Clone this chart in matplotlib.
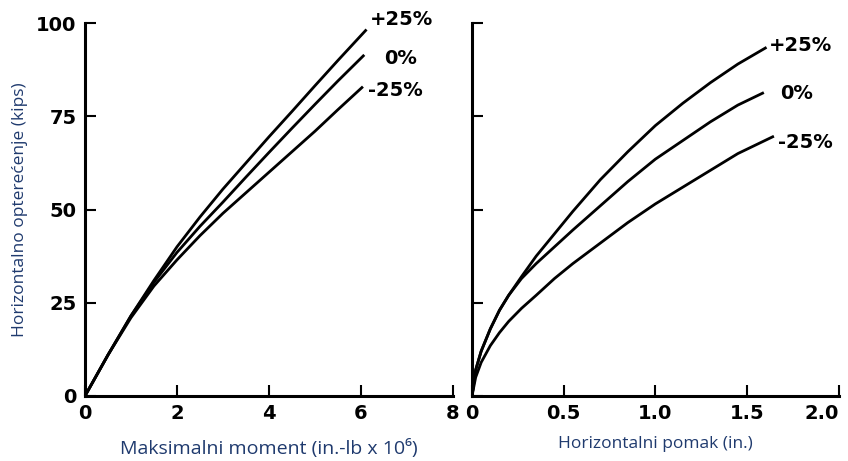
import matplotlib
matplotlib.use("Agg")
import matplotlib.pyplot as plt

# lijevi dijagram: maksimalni moment (in.-lb x 10^6) vs horizontalno opterecenje (kips)
m_plus = [0, 0.5, 1.0, 1.5, 2.0, 2.5, 3.0, 3.5, 4.0, 4.5, 5.0, 5.5, 6.1]
p_plus = [0, 11, 21.5, 31, 40, 48, 55.5, 62.5, 69.5, 76.3, 83.2, 90, 98]
m_zero = [0, 0.5, 1.0, 1.5, 2.0, 2.5, 3.0, 3.5, 4.0, 4.5, 5.0, 5.5, 6.05]
p_zero = [0, 11, 21.5, 30.5, 38.5, 45.5, 52, 58.7, 65.3, 71.8, 78.2, 84.5, 91.2]
m_minus = [0, 0.5, 1.0, 1.5, 2.0, 2.5, 3.0, 3.5, 4.0, 4.5, 5.0, 5.5, 6.02]
p_minus = [0, 11, 21, 29.5, 36.5, 43, 49, 54.5, 60, 65.5, 71, 76.8, 82.7]

# desni dijagram: horizontalni pomak (in.) vs opterecenje
d_plus = [0, 0.02, 0.05, 0.1, 0.15, 0.2, 0.27, 0.35, 0.45, 0.55, 0.7, 0.85, 1.0, 1.15, 1.3, 1.45, 1.6]
h_plus = [0, 7, 12, 18, 23, 27, 32, 37.5, 43.5, 49.5, 58, 65.5, 72.5, 78.5, 84, 89, 93.3]
d_zero = [0, 0.02, 0.05, 0.1, 0.15, 0.2, 0.27, 0.35, 0.45, 0.55, 0.7, 0.85, 1.0, 1.15, 1.3, 1.45, 1.585]
h_zero = [0, 7, 12, 18, 23, 27, 31.5, 35.5, 40, 44.5, 51, 57.5, 63.5, 68.5, 73.5, 78, 81.2]
d_minus = [0, 0.02, 0.05, 0.1, 0.15, 0.2, 0.27, 0.35, 0.45, 0.55, 0.7, 0.85, 1.0, 1.15, 1.3, 1.45, 1.64]
h_minus = [0, 5, 9, 13.5, 17, 20, 23.5, 27, 31.5, 35.5, 41, 46.5, 51.5, 56, 60.5, 65, 69.5]

labels = ["+25%", "0%", "-25%"]
y_ticks = [0, 25, 50, 75, 100]
m_ticks = [0, 2, 4, 6, 8]
d_ticks = [0, 0.5, 1.0, 1.5, 2.0]
d_ticklabels = ["0", "0.5", "1.0", "1.5", "2.0"]

label_color = "#1F3A6E"
tick_font = dict(family="DejaVu Sans", weight="bold", size=14)
note_font = dict(family="DejaVu Sans", weight="bold", size=14)

fig = plt.figure(figsize=(8.48, 4.61), dpi=100)
ax1 = fig.add_axes([0.1002, 0.141, 0.434, 0.809])
ax2 = fig.add_axes([0.5566, 0.141, 0.4324, 0.809])

# lijevi
ax1.plot(m_plus, p_plus, color="black", lw=2)
ax1.plot(m_zero, p_zero, color="black", lw=2)
ax1.plot(m_minus, p_minus, color="black", lw=2)
ax1.set_xlim(0, 8)
ax1.set_xticks(m_ticks)
ax1.set_xticklabels([str(t) for t in m_ticks], **tick_font)
ax1.set_ylim(0, 100)
ax1.set_yticks(y_ticks)
ax1.set_yticklabels([str(t) for t in y_ticks], **tick_font)
ax1.text(6.2, 101, labels[0], ha="left", va="center", **note_font)
ax1.text(6.5, 90.5, labels[1], ha="left", va="center", **note_font)
ax1.text(6.15, 82, labels[2], ha="left", va="center", **note_font)
ax1.set_xlabel("Maksimalni moment (in.-lb x 10⁶)", family=["Open Sans", "DejaVu Sans"],
               size=14, color=label_color, labelpad=11)
ax1.set_ylabel("Horizontalno opterećenje (kips)", family=["Open Sans", "DejaVu Sans"],
               size=12.5, color=label_color, labelpad=6)

# desni
ax2.plot(d_plus, h_plus, color="black", lw=2)
ax2.plot(d_zero, h_zero, color="black", lw=2)
ax2.plot(d_minus, h_minus, color="black", lw=2)
ax2.set_xlim(0, 2.0)
ax2.set_xticks(d_ticks)
ax2.set_xticklabels(d_ticklabels, **tick_font)
ax2.get_xticklabels()[-1].set_horizontalalignment("right")
ax2.set_ylim(0, 100)
ax2.set_yticks(y_ticks)
ax2.set_yticklabels([])
ax2.text(1.62, 94, labels[0], ha="left", va="center", **note_font)
ax2.text(1.68, 81, labels[1], ha="left", va="center", **note_font)
ax2.text(1.67, 68, labels[2], ha="left", va="center", **note_font)
ax2.set_xlabel("Horizontalni pomak (in.)", family=["Open Sans", "DejaVu Sans"],
               size=12.5, color=label_color, labelpad=9)

for ax in (ax1, ax2):
    ax.spines["top"].set_visible(False)
    ax.spines["right"].set_visible(False)
    ax.spines["left"].set_linewidth(2.2)
    ax.spines["bottom"].set_linewidth(2.2)
    ax.tick_params(axis="both", which="major", direction="in", length=8, width=1.5, pad=6)

fig.savefig("out.png", dpi=100)
